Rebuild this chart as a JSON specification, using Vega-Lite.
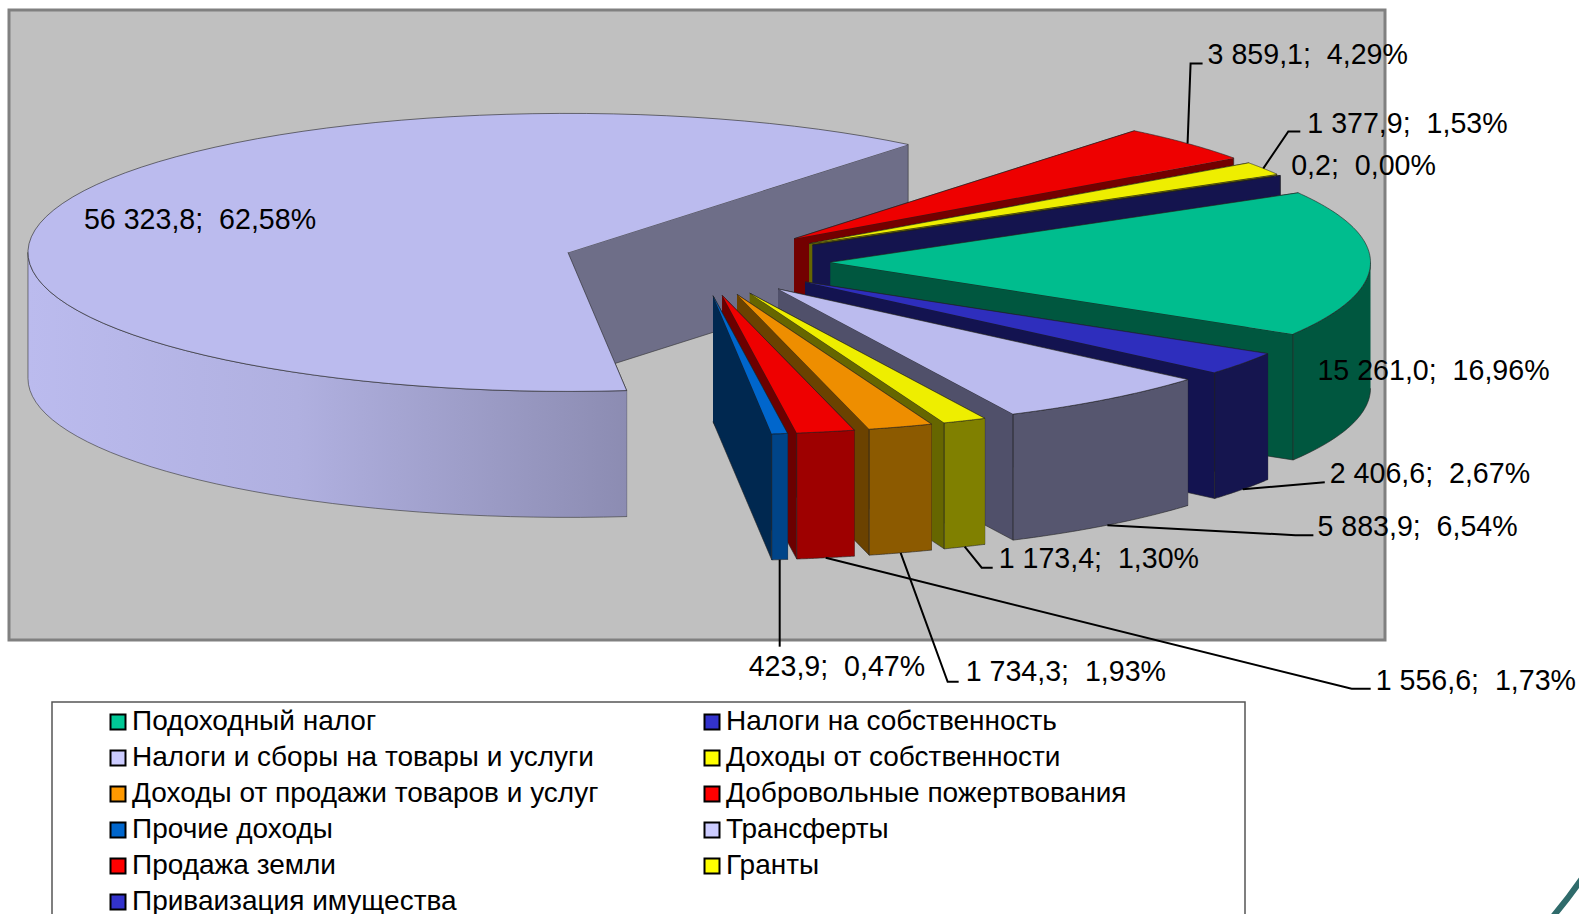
{"$schema":"https://vega.github.io/schema/vega-lite/v6.json","width":1376,"height":630,"padding":{"left":9,"top":10,"right":194,"bottom":274},"autosize":{"type":"none"},"background":"#ffffff","view":{"fill":"#c0c0c0","stroke":"#808080","strokeWidth":3},"config":{"font":"Liberation Sans"},"data":{"values":[{"name":"Подоходный налог","value":15261.0},{"name":"Налоги на собственность","value":2406.6},{"name":"Налоги и сборы на товары и услуги","value":5883.9},{"name":"Доходы от собственности","value":1173.4},{"name":"Доходы от продажи товаров и услуг","value":1734.3},{"name":"Добровольные пожертвования","value":1556.6},{"name":"Прочие доходы","value":423.9},{"name":"Трансферты","value":56323.8},{"name":"Продажа земли","value":3859.1},{"name":"Гранты","value":1377.9},{"name":"Приваизация имущества","value":0.2}]},"transform":[{"stack":"value","groupby":[],"as":["v0","v1"]},{"window":[{"op":"row_number","as":"n"}]},{"joinaggregate":[{"op":"sum","field":"value","as":"total"}]},{"calculate":"PI/3+2*PI*datum.v0/datum.total","as":"a1"},{"calculate":"PI/3+2*PI*datum.v1/datum.total","as":"a2"},{"calculate":"(datum.a1+datum.a2)/2","as":"mid"},{"calculate":"696.5+134*sin(datum.mid)","as":"cx"},{"calculate":"262-34*cos(datum.mid)","as":"cy"},{"calculate":"['start','end','rim','top']","as":"part"},{"flatten":["part"]},{"calculate":"sequence(0,81)","as":"i"},{"flatten":["i"]},{"filter":"datum.part=='top'||datum.part=='rim'||datum.i<4"},{"calculate":"max(datum.a1,PI/2)","as":"A1"},{"calculate":"min(datum.a2,3*PI/2)","as":"A2"},{"filter":"datum.part!='rim'||datum.A1<datum.A2"},{"calculate":"datum.part=='top'?datum.a1+(datum.a2-datum.a1)*(datum.i-1)/79:datum.part=='rim'?datum.A1+(datum.A2-datum.A1)*(datum.i<=40?datum.i/40:(80-datum.i)/39):datum.part=='start'?datum.a1:datum.a2","as":"ang"},{"calculate":"datum.part=='rim'?1:datum.part=='top'?(datum.i==0?0:1):(datum.i==0||datum.i==3?0:1)","as":"rad"},{"calculate":"datum.part=='top'?0:datum.part=='rim'?(datum.i<=40?0:1):(datum.i>=2?1:0)","as":"dep"},{"calculate":"datum.cx+540*datum.rad*sin(datum.ang)","as":"px"},{"calculate":"datum.cy-139*datum.rad*cos(datum.ang)+126*datum.dep","as":"py"},{"calculate":"datum.n+'|'+(datum.part=='top'?'t':datum.part=='rim'?'r':'w')","as":"key"},{"calculate":"datum.name+'|'+datum.part","as":"poly"},{"calculate":"datum.cx+540*sin(datum.mid)","as":"ax"},{"calculate":"datum.cy-139*cos(datum.mid)+(cos(datum.mid)<0?126:0)","as":"ay"},{"calculate":"[[0,0,0,0,-53,-19],[82,-7,82,-7,87,-15],[188,10,206,10,210,2],[17,21,28,21,34,12],[47,129,58,129,65,119],[526,131,545,131,550,123],[0,87,0,87,-31,107],[0,0,0,0,34,7],[3,-80,15,-80,20,-89],[25,-37,37,-37,44,-44],[0,0,0,0,11,-9]][datum.n-1]","as":"off"},{"calculate":"datum.i==0?datum.ax:datum.ax+datum.off[datum.i==1?0:2]","as":"lx"},{"calculate":"datum.i==0?datum.ay:datum.ay+datum.off[datum.i==1?1:3]","as":"ly"},{"calculate":"datum.ax+datum.off[4]","as":"tx"},{"calculate":"datum.ay+datum.off[5]","as":"ty"},{"calculate":"replace(replace(format(datum.value,',.1f'),regexp(',','g'),' '),'.',',')+'; \u00a0'+replace(format(datum.value/datum.total,'.2%'),'.',',')","as":"label"}],"layer":[{"transform":[{"filter":"datum.n==1&&datum.part=='top'&&datum.i==0"}],"mark":{"type":"rect","fill":"#ffffff","stroke":"#555555","strokeWidth":1.5},"encoding":{"x":{"datum":52,"type":"quantitative","scale":{"domain":[9,1385]},"axis":null},"x2":{"datum":1245},"y":{"datum":702,"type":"quantitative","scale":{"domain":[10,640],"reverse":true},"axis":null},"y2":{"datum":950}}},{"transform":[{"filter":"datum.part=='top'&&datum.i==0"}],"mark":{"type":"square","size":1,"opacity":1},"encoding":{"x":{"datum":300,"type":"quantitative","scale":{"domain":[9,1385]}},"y":{"datum":250,"type":"quantitative","scale":{"domain":[10,640],"reverse":true}},"color":{"field":"name","type":"nominal","scale":{"domain":["Подоходный налог","Налоги и сборы на товары и услуги","Доходы от продажи товаров и услуг","Прочие доходы","Продажа земли","Приваизация имущества","Налоги на собственность","Доходы от собственности","Добровольные пожертвования","Трансферты","Гранты"],"range":["#00c896","#ccccff","#ff9900","#0066cc","#ff0000","#3333cc","#3333cc","#ffff00","#ff0000","#ccccff","#ffff00"]},"legend":{"title":null,"orient":"none","legendX":95,"legendY":698,"columns":2,"symbolType":"square","symbolSize":225,"symbolStrokeColor":"#000000","symbolStrokeWidth":2,"symbolOpacity":1,"labelFont":"Liberation Sans","labelFontSize":28,"labelColor":"#000000","labelLimit":0,"labelOffset":0,"padding":0,"rowPadding":8,"columnPadding":99,"symbolLimit":0,"clipHeight":28,"offset":0}}}},{"transform":[{"filter":"datum.n==8&&(datum.part=='start'||datum.part=='end')"}],"mark":{"type":"line","filled":true,"fill":"#6e6e88","stroke":"#333333","strokeWidth":0.6},"encoding":{"x":{"field":"px","type":"quantitative","scale":{"domain":[9,1385]}},"y":{"field":"py","type":"quantitative","scale":{"domain":[10,640],"reverse":true}},"detail":{"field":"poly"},"order":{"field":"i","type":"quantitative"}}},{"transform":[{"filter":"datum.n==8&&datum.part=='rim'"}],"mark":{"type":"line","filled":true,"stroke":"#333333","strokeWidth":0.6,"fill":{"gradient":"linear","x1":0,"x2":1,"y1":0,"y2":0,"stops":[{"offset":0,"color":"#bbbbee"},{"offset":0.45,"color":"#b0b0e0"},{"offset":1,"color":"#8c8cb2"}]}},"encoding":{"x":{"field":"px","type":"quantitative","scale":{"domain":[9,1385]}},"y":{"field":"py","type":"quantitative","scale":{"domain":[10,640],"reverse":true}},"order":{"field":"i","type":"quantitative"}}},{"encoding":{"x":{"field":"px","type":"quantitative","scale":{"domain":[9,1385]}},"y":{"field":"py","type":"quantitative","scale":{"domain":[10,640],"reverse":true}},"detail":{"field":"poly"},"order":{"field":"i","type":"quantitative"},"fill":{"field":"key","type":"nominal","legend":null,"scale":{"domain":["1|t","1|w","1|r","2|t","2|w","2|r","3|t","3|w","3|r","4|t","4|w","4|r","5|t","5|w","5|r","6|t","6|w","6|r","7|t","7|w","7|r","8|t","9|t","9|w","9|r","10|t","10|w","10|r","11|t","11|w","11|r"],"range":["#00bd8e","#00573f","#00573f","#2e2ebd","#131350","#15154f","#bbbbee","#50506a","#56566f","#eeee00","#666600","#808000","#ee8e00","#6b4200","#8c5a00","#ee0000","#6b0000","#9e0000","#0066cc","#002850","#004488","#bbbbee","#ee0000","#730000","#9e0000","#eeee00","#666600","#808000","#2e2ebd","#14144e","#14144e"]}}},"layer":[{"transform":[{"filter":"datum.n>=9||(datum.n==8&&datum.part=='top')"}],"mark":{"type":"line","filled":true,"stroke":"#222222","strokeWidth":0.6}},{"transform":[{"filter":"datum.n<8"}],"mark":{"type":"line","filled":true,"stroke":"#222222","strokeWidth":0.6}}]},{"transform":[{"filter":"datum.part=='top'&&datum.i<3&&datum.n!=1&&datum.n!=8&&datum.n!=11"}],"mark":{"type":"line","color":"#000000","strokeWidth":2},"encoding":{"x":{"field":"lx","type":"quantitative","scale":{"domain":[9,1385]}},"y":{"field":"ly","type":"quantitative","scale":{"domain":[10,640],"reverse":true}},"detail":{"field":"name"},"order":{"field":"i","type":"quantitative"}}},{"transform":[{"filter":"datum.part=='top'&&datum.i==0"}],"mark":{"type":"text","align":"left","baseline":"middle","font":"Liberation Sans","fontSize":28.6,"color":"#000000"},"encoding":{"x":{"field":"tx","type":"quantitative","scale":{"domain":[9,1385]}},"y":{"field":"ty","type":"quantitative","scale":{"domain":[10,640],"reverse":true}},"text":{"field":"label"}}},{"transform":[{"filter":"datum.n==1&&datum.part=='top'&&datum.i==0"}],"mark":{"type":"arc","fill":"#2f6b6b","radius":503,"radius2":497,"theta":2.0,"theta2":2.36},"encoding":{"x":{"datum":1170,"type":"quantitative","scale":{"domain":[9,1385]}},"y":{"datum":595,"type":"quantitative","scale":{"domain":[10,640],"reverse":true}}}}]}
